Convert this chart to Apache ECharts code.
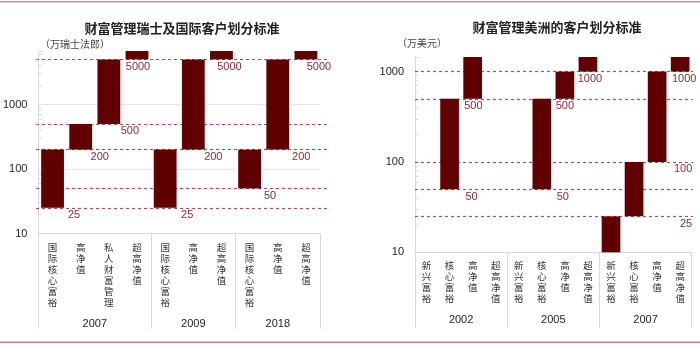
<!DOCTYPE html>
<html><head><meta charset="utf-8">
<script src="https://cdn.jsdelivr.net/npm/echarts@6/dist/echarts.min.js"></script>
<style>html,body{margin:0;padding:0;background:#fff}#c{width:700px;height:344px}</style>
</head><body><div id="c"></div>
<script>
// ---------------- data ----------------
const leftTitle = '财富管理瑞士及国际客户划分标准';
const leftUnit = '（万瑞士法郎）';
const leftYears = ['2007', '2009', '2018'];
const leftGroupSizes = [4, 3, 3];
const leftCategories = ['国际核心富裕', '高净值', '私人财富管理', '超高净值',
                        '国际核心富裕', '高净值', '超高净值',
                        '国际核心富裕', '高净值', '超高净值'];
// lower / upper bound of each client class (null = open-ended, '-' = no class)
const leftLow  = [25, 200, 500, 5000, 25, 200, 5000, 50, 200, 5000];
const leftHigh = [200, 500, 5000, null, 200, 5000, null, 200, 5000, null];
const leftThresholds = [5000, 500, 200, 50, 25];
const leftTickLabels = ['10', '100', '1000'];

const rightTitle = '财富管理美洲的客户划分标准';
const rightUnit = '（万美元）';
const rightYears = ['2002', '2005', '2007'];
const rightGroupSizes = [4, 4, 4];
const rightCategories = ['新兴富裕', '核心富裕', '高净值', '超高净值',
                         '新兴富裕', '核心富裕', '高净值', '超高净值',
                         '新兴富裕', '核心富裕', '高净值', '超高净值'];
const rightLow  = ['-', 50, 500, '-', '-', 50, 500, 1000, null, 25, 100, 1000];
const rightHigh = ['-', 500, null, '-', '-', 500, 1000, null, 25, 100, 1000, null];
const rightThresholds = [1000, 500, 100, 50, 25];
const rightTickLabels = ['10', '100', '1000'];

// ---------------- style ----------------
const BAR = '#600000', LABEL = '#8c2a36', DASH = '#a4515c', AXIS = '#d9d9d9', TEXT = '#333333';
const CJK = '"Noto Sans CJK SC", sans-serif';
const NUM = '"Liberation Sans", Arial, sans-serif';
const leftLabelDx  = [21.5, 19, 21, 1, 22, 20, 8, 20.5, 23.5, 13];
const rightLabelDx = [0, 22, 0.7, 0, 0, 21, 0, 2, 0, 52, 26, 4];
const L = {left: 36, top: 51, width: 284, height: 182.5, yMax: 6750, dashX: [36, 327], tickLen: 95};
const R = {left: 415, top: 57, width: 276.7, height: 195.3, yMax: 1450, dashX: [415, 693], tickLen: 76};

function toData(low, high) {
  const out = [];
  low.forEach((l, i) => {
    if (l === '-' && high[i] === '-') return;
    out.push([i, l == null ? '-' : l, high[i] == null ? '-' : high[i]]);
  });
  return out;
}
function boundaries(sizes) {
  const b = []; let s = 0;
  sizes.forEach(n => { b.push(s); s += n; });
  return b;
}

function xAxis(gridIndex, cats, sizes, tickLen) {
  const b = boundaries(sizes);
  return {
    type: 'category', gridIndex, data: cats,
    axisLine: {show: true, lineStyle: {color: AXIS, width: 1}},
    axisTick: {show: true, length: tickLen, interval: (idx) => b.indexOf(idx) >= 0,
               lineStyle: {color: AXIS, width: 1}},
    axisLabel: {interval: 0, margin: 8, color: TEXT, fontFamily: CJK, fontSize: 9.5, lineHeight: 11,
                formatter: s => s.split('').join('\n')},
    splitLine: {show: false}
  };
}
function yAxis(gridIndex, yMax, tickLabels) {
  return {
    type: 'log', logBase: 10, gridIndex, min: 10, max: yMax,
    axisLine: {show: true, lineStyle: {color: AXIS}},
    axisTick: {show: true, inside: true, length: 4, lineStyle: {color: AXIS}},
    minorTick: {show: true, splitNumber: 9, length: 3, lineStyle: {color: AXIS}},
    splitLine: {show: false},
    axisLabel: {margin: 11, color: '#222', fontFamily: NUM, fontSize: 11,
                showMaxLabel: false,
                formatter: v => { const s = String(Math.round(v)); return tickLabels.indexOf(s) >= 0 ? s : ''; }}
  };
}
function barSeries(idx, low, high, dx, cfg, thresholds, gridLines) {
  return {
    type: 'custom', xAxisIndex: idx, yAxisIndex: idx,
    data: toData(low, high), encode: {x: 0, y: [1, 2]},
    renderItem: (params, api) => {
      const i = api.value(0);
      let lo = api.value(1), hi = api.value(2);
      const openLow = isNaN(lo);
      if (openLow) lo = 10;
      if (isNaN(hi)) hi = cfg.yMax;
      const pLo = api.coord([i, lo]), pHi = api.coord([i, hi]);
      const w = api.size([1, 0])[0] * 0.81;
      const children = [{type: 'rect', shape: {x: pLo[0] - w / 2, y: pHi[1], width: w, height: pLo[1] - pHi[1]},
                         style: {fill: BAR}}];
      if (!openLow) {
        children.push({type: 'text', x: pLo[0] + dx[i], y: pLo[1] + 2,
          style: {text: String(api.value(1)), fill: LABEL, fontSize: 11, fontFamily: NUM,
                  align: 'center', verticalAlign: 'top'}});
      }
      return {type: 'group', children};
    },
    markLine: {
      silent: true, symbol: 'none', z: 1, animation: false, label: {show: false},
      lineStyle: {color: DASH, type: [3, 3], width: 1.2},
      data: gridLines.map(v => ({yAxis: v, lineStyle: {color: '#e6e6e6', type: 'solid', width: 1}}))
        .concat(thresholds.map(v => [{x: cfg.dashX[0], yAxis: v}, {x: cfg.dashX[1], yAxis: v}]))
    }
  };
}

const chart = echarts.init(document.getElementById('c'), null, {renderer: 'canvas'});
chart.setOption({
  animation: false,
  backgroundColor: '#fff',
  title: [
    {text: leftTitle, left: 177, top: 17, textAlign: 'center',
     textStyle: {fontFamily: CJK, fontSize: 13, fontWeight: 'bold', color: '#222'}},
    {text: rightTitle, left: 552, top: 16, textAlign: 'center',
     textStyle: {fontFamily: CJK, fontSize: 13, fontWeight: 'bold', color: '#222'}}
  ],
  grid: [
    {left: L.left, top: L.top, width: L.width, height: L.height},
    {left: R.left, top: R.top, width: R.width, height: R.height}
  ],
  xAxis: [xAxis(0, leftCategories, leftGroupSizes, L.tickLen), xAxis(1, rightCategories, rightGroupSizes, R.tickLen)],
  yAxis: [yAxis(0, L.yMax, leftTickLabels), yAxis(1, R.yMax, rightTickLabels)],
  series: [
    barSeries(0, leftLow, leftHigh, leftLabelDx, L, leftThresholds, [100, 1000]),
    barSeries(1, rightLow, rightHigh, rightLabelDx, R, rightThresholds, [])
  ]
});

function groupLabels(xAxisIndex, sizes, years, y) {
  let start = 0; const out = [];
  sizes.forEach((n, g) => {
    const a = chart.convertToPixel({xAxisIndex}, start);
    const b = chart.convertToPixel({xAxisIndex}, start + n - 1);
    out.push({type: 'text', x: (a + b) / 2, y,
      style: {text: years[g], fill: '#222', fontSize: 11, fontFamily: NUM, align: 'center', verticalAlign: 'middle'}});
    start += n;
  });
  return out;
}
chart.setOption({
  graphic: [
    {type: 'rect', shape: {x: 0, y: 1, width: 700, height: 1.5}, style: {fill: '#b99a9a'}},
    {type: 'rect', shape: {x: 0, y: 341.5, width: 700, height: 1.5}, style: {fill: '#c48a8a'}},
    {type: 'text', x: 40, y: 44, style: {text: leftUnit, fill: '#444', fontSize: 10, fontFamily: CJK, verticalAlign: 'middle'}},
    {type: 'text', x: 397, y: 43, style: {text: rightUnit, fill: '#444', fontSize: 10, fontFamily: CJK, verticalAlign: 'middle'}}
  ].concat(groupLabels(0, leftGroupSizes, leftYears, 324), groupLabels(1, rightGroupSizes, rightYears, 320))
});
</script>
</body></html>
